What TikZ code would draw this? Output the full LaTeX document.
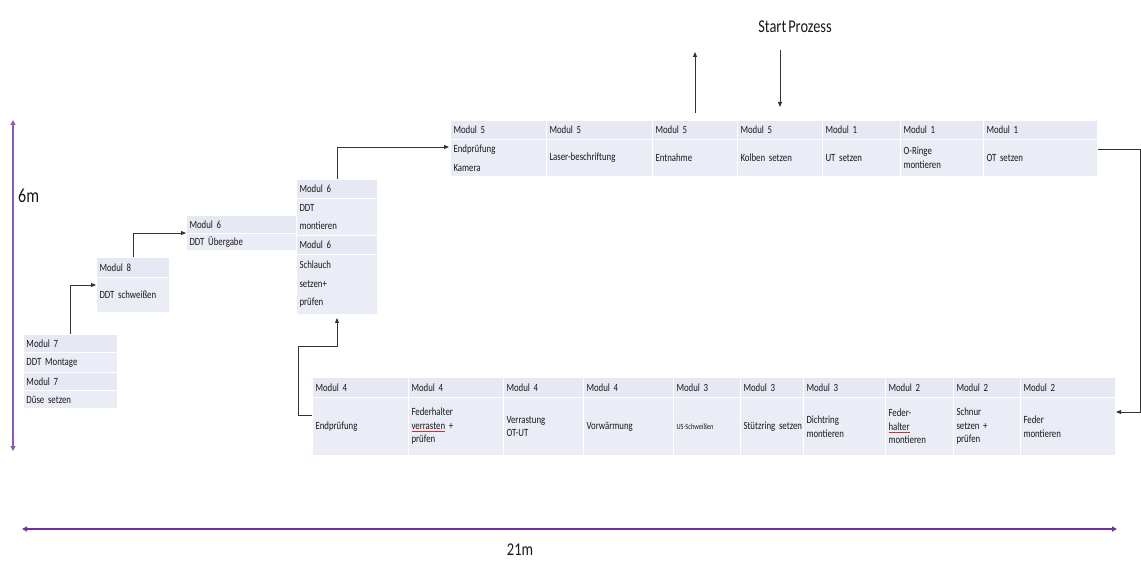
\documentclass[tikz,border=0pt]{standalone}
\usepackage{fontspec}
\setmainfont{Carlito}[FakeStretch=0.8, WordSpace=0.6]
\usetikzlibrary{arrows.meta,calc}
\definecolor{cellbg}{HTML}{EBEDF6}
\definecolor{hdrbg}{HTML}{E6E9F3}
\definecolor{measure}{HTML}{7030A0}
\definecolor{spell}{HTML}{D03030}
\newcommand\spellerr[1]{\leavevmode\setbox0\hbox{#1}\rlap{\color{spell}\rule[-2.6pt]{\wd0}{0.8pt}}#1}
\tikzset{
  cell/.style={fill=cellbg, draw=white, line width=1pt, anchor=north west,
    inner xsep=3pt, inner ysep=0pt, align=left, text=black!90,
    font=\fontsize{11}{13.5}\selectfont},
  hdr/.style={cell, fill=hdrbg},
  tallcell/.style={cell, font=\fontsize{11}{18.5}\selectfont},
  flow/.style={-{Triangle[length=5pt,width=4pt]}, line width=0.9pt, draw=black!80},
  meas/.style={{Triangle[length=5pt,width=5pt]}-{Triangle[length=5pt,width=5pt]},
    draw=measure, line width=1.8pt},
  biglabel/.style={text=black!90, inner sep=0pt}
}
\newcommand\mkcell[7]{\pgfmathsetmacro\tw{#5-6}%
  \node[#1, text width=\tw pt, minimum height=#6pt] (#2) at (#3,#4) {#7};}
\begin{document}
\begin{tikzpicture}[x=1pt,y=-1pt]
\useasboundingbox (0,0) rectangle (1141,561);

% ---- top table ----
\mkcell{hdr}{t1h}{450}{120}{96}{19}{Modul 5}
\mkcell{hdr}{t2h}{546}{120}{106}{19}{Modul 5}
\mkcell{hdr}{t3h}{652}{120}{85}{19}{Modul 5}
\mkcell{hdr}{t4h}{737}{120}{85}{19}{Modul 5}
\mkcell{hdr}{t5h}{822}{120}{78}{19}{Modul 1}
\mkcell{hdr}{t6h}{900}{120}{83}{19}{Modul 1}
\mkcell{hdr}{t7h}{983}{120}{114}{19}{Modul 1}
\mkcell{tallcell}{t1b}{450}{139}{96}{37}{Endprüfung\\Kamera}
\mkcell{cell}{t2b}{546}{139}{106}{37}{Laser-beschriftung}
\mkcell{cell}{t3b}{652}{139}{85}{37}{Entnahme}
\mkcell{cell}{t4b}{737}{139}{85}{37}{Kolben setzen}
\mkcell{cell}{t5b}{822}{139}{78}{37}{UT setzen}
\mkcell{cell}{t6b}{900}{139}{83}{37}{O-Ringe\\montieren}
\mkcell{cell}{t7b}{983}{139}{114}{37}{OT setzen}

% ---- bottom table ----
\mkcell{hdr}{b1h}{312}{377}{96}{20}{Modul 4}
\mkcell{hdr}{b2h}{408}{377}{95}{20}{Modul 4}
\mkcell{hdr}{b3h}{503}{377}{80}{20}{Modul 4}
\mkcell{hdr}{b4h}{583}{377}{90}{20}{Modul 4}
\mkcell{hdr}{b5h}{673}{377}{67}{20}{Modul 3}
\mkcell{hdr}{b6h}{740}{377}{63}{20}{Modul 3}
\mkcell{hdr}{b7h}{803}{377}{82}{20}{Modul 3}
\mkcell{hdr}{b8h}{885}{377}{68}{20}{Modul 2}
\mkcell{hdr}{b9h}{953}{377}{67}{20}{Modul 2}
\mkcell{hdr}{b10h}{1020}{377}{95}{20}{Modul 2}
\mkcell{cell}{b1b}{312}{397}{96}{58}{Endprüfung}
\mkcell{cell}{b2b}{408}{397}{95}{58}{Federhalter\\\spellerr{verrasten} +\\prüfen}
\mkcell{cell}{b3b}{503}{397}{80}{58}{Verrastung\\OT-UT}
\mkcell{cell}{b4b}{583}{397}{90}{58}{Vorwärmung}
\mkcell{cell}{b5b}{673}{397}{67}{58}{{\fontsize{8}{10}\selectfont US-Schweißen}}
\mkcell{cell}{b6b}{740}{397}{63}{58}{\mbox{Stützring setzen}}
\mkcell{cell}{b7b}{803}{397}{82}{58}{Dichtring\\montieren}
\mkcell{cell}{b8b}{885}{397}{68}{58}{Feder-\\\spellerr{halter}\\montieren}
\mkcell{cell}{b9b}{953}{397}{67}{58}{Schnur\\setzen +\\prüfen}
\mkcell{cell}{b10b}{1020}{397}{95}{58}{Feder\\montieren}

% ---- left blocks ----
\mkcell{hdr}{m7a}{23}{334}{94}{18}{Modul 7}
\mkcell{cell}{m7b}{23}{352}{94}{20}{DDT Montage}
\mkcell{hdr}{m7c}{23}{372}{94}{18}{Modul 7}
\mkcell{cell}{m7d}{23}{390}{94}{18}{Düse setzen}

\mkcell{hdr}{m8a}{96}{257}{73}{20}{Modul 8}
\mkcell{cell}{m8b}{96}{277}{73}{35}{DDT schweißen}

\mkcell{hdr}{m6a}{186}{215}{110}{18}{Modul 6}
\mkcell{cell}{m6b}{186}{233}{110}{17}{DDT Übergabe}

\mkcell{hdr}{m6c}{296}{179}{81}{19}{Modul 6}
\mkcell{tallcell}{m6d}{296}{198}{81}{37}{DDT\\montieren}
\mkcell{hdr}{m6e}{296}{235}{81}{19}{Modul 6}
\mkcell{tallcell}{m6f}{296}{254}{81}{60}{Schlauch\\setzen+\\prüfen}

% ---- flow connectors ----
\draw[flow] (m7a.north) |- ([yshift=-8pt]m8b.north west);
\draw[flow] (m8a.north) |- (m6b.north west);
\draw[flow] (m6c.north) |- ([yshift=-8pt,xshift=-1pt]t1b.north west);
\draw[flow] ([yshift=-10pt]t7b.north east) -- ++(42,0) |- ([yshift=-15pt]b10b.north east);
\draw[flow] ([yshift=-18pt]b1b.north west) -- ++(-14,0) |- ([yshift=-31pt]m6f.south) -- ([yshift=-3pt]m6f.south);

% ---- start / exit arrows ----
\node[biglabel, font=\fontsize{18}{20}\selectfont] (start) at (795,27) {Start Prozess};
\coordinate (exitEnd) at ([yshift=68pt]t3h.north);
\draw[flow] ([yshift=7pt]t3h.north) -- (exitEnd);
\coordinate (startBeg) at ([yshift=70pt]t4h.north);
\draw[flow] (startBeg) -- ([yshift=13pt]t4h.north);

% ---- dimensions ----
\coordinate (v1) at (13,120);
\coordinate (v2) at (13,451);
\draw[meas, draw=measure!80, line width=1.5pt] (v1) -- (v2);
\node[biglabel, font=\fontsize{20}{22}\selectfont, anchor=west] (sixm) at (18,196) {6m};
\coordinate (h1) at (22,529);
\coordinate (h2) at (1117,529);
\draw[meas, line width=2.4pt] (h1) -- (h2);
\node[biglabel, font=\fontsize{18}{20}\selectfont] (twentyonem) at (520,550) {21m};
\end{tikzpicture}
\end{document}
